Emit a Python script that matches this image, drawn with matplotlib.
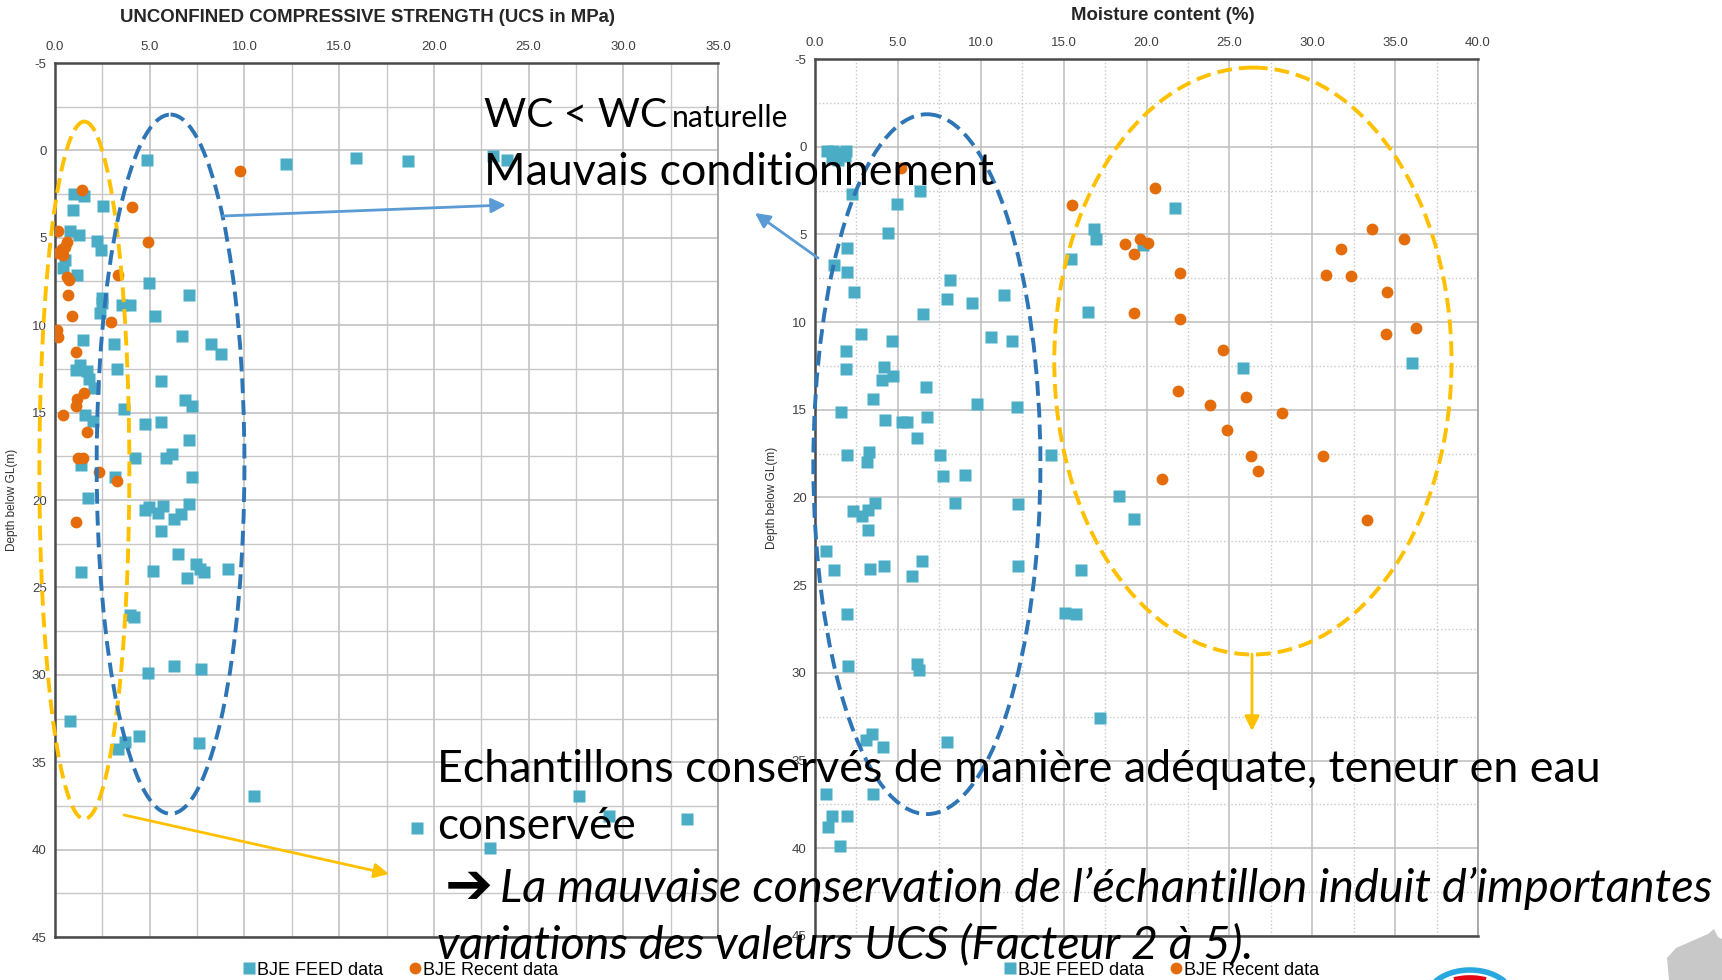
import matplotlib
matplotlib.use('Agg')
import matplotlib.pyplot as plt
from matplotlib.patches import Ellipse, Polygon
from matplotlib.lines import Line2D
import numpy as np

plt.rcParams['axes.unicode_minus'] = False

# UCS (MPa) against depth below ground level (m)
ucs_feed_x = [4.84, 1.0, 1.53, 0.97, 2.55, 0.79, 1.27, 2.24, 2.43, 0.53, 0.44, 1.18, 4.96, 7.1,
              2.46, 2.46, 3.52, 3.96, 2.38, 5.28, 6.69, 1.5, 3.12, 8.24, 8.75, 1.32, 1.11, 1.67,
              1.81, 2.08, 3.26, 5.58, 6.87, 7.25, 3.66, 1.58, 2.02, 4.75, 5.58, 7.1, 4.23, 5.85,
              6.16, 1.36, 3.17, 7.22, 1.76, 4.75, 4.98, 5.46, 5.72, 6.3, 6.64, 7.1, 5.58,
              6.51, 1.36, 5.19, 6.95, 7.45, 7.66, 7.89, 9.15, 3.95, 4.15, 4.89, 6.29, 7.71,
              0.79, 3.31, 3.7, 4.45, 7.61, 10.51,
              12.18, 15.9, 18.61, 23.12, 23.86, 19.1, 27.68, 29.27, 33.37, 22.98]
ucs_feed_depth = [0.53, 2.48, 2.63, 3.43, 3.2, 4.63, 4.86, 5.2, 5.68, 6.29, 6.7, 7.1, 7.58, 8.29,
                  8.44, 8.72, 8.86, 8.86, 9.33, 9.47, 10.6, 10.86, 11.05, 11.05, 11.66, 12.29,
                  12.57, 12.61, 13.05, 13.6, 12.51, 13.2, 14.29, 14.63, 14.82, 15.14, 15.47,
                  15.66, 15.52, 16.57, 17.58, 17.58, 17.39, 18.0, 18.67, 18.67, 19.9, 20.6,
                  20.38, 20.76, 20.34, 21.1, 20.8, 20.25, 21.8,
                  23.1, 24.1, 24.06, 24.46, 23.68, 23.93, 24.11, 23.93, 26.6, 26.7, 29.92, 29.5,
                  29.64, 32.62, 34.24, 33.82, 33.5, 33.92, 36.93,
                  0.75, 0.42, 0.6, 0.32, 0.56, 38.77, 36.93, 38.1, 38.26, 39.91]

ucs_recent_x = [9.77, 1.41, 4.08, 0.18, 4.93, 0.62, 0.53, 0.35, 0.18, 0.44, 3.31, 0.62, 0.74,
                0.67, 0.88, 2.96, 0.09, 0.18, 1.11, 1.55, 1.14, 1.11, 0.4, 1.67, 1.23, 1.46,
                2.32, 3.26, 1.11]
ucs_recent_depth = [1.18, 2.29, 3.24, 4.61, 5.24, 5.24, 5.52, 5.62, 5.87, 6.0, 7.14, 7.24, 7.39,
                    8.29, 9.47, 9.81, 10.25, 10.67, 11.52, 13.87, 14.25, 14.63, 15.14, 16.1,
                    17.62, 17.62, 18.42, 18.91, 21.24]

# Moisture content (%) against depth below ground level (m)
wc_feed_x = [0.7, 1.1, 1.5, 1.9, 1.0, 1.4, 1.8,
             2.21, 6.33, 4.93, 4.42, 1.91, 1.15, 1.91, 8.14, 2.37, 7.94, 9.49, 11.42, 6.53,
             2.75, 4.66, 10.62, 11.86, 1.87, 1.87, 4.16, 4.02, 4.72, 6.67, 3.52, 9.75, 12.16,
             1.55, 4.22, 5.23, 5.53, 6.74, 6.13, 1.91, 3.26, 3.12, 7.54, 14.21, 7.74, 9.05,
             8.44, 12.22, 2.31, 2.81, 3.22, 3.62, 3.22, 0.64,
             1.15, 3.32, 4.16, 5.83, 6.43, 12.22, 1.95, 2.01, 6.13, 6.27, 3.06, 3.46, 4.12,
             7.94, 0.64, 3.52, 1.05, 0.76, 1.95, 1.51,
             21.71, 16.83, 16.95, 19.8, 15.44, 16.45, 25.83, 36.03, 18.33, 19.24, 16.03,
             15.1, 15.76, 17.22]
wc_feed_depth = [0.25, 0.25, 0.35, 0.25, 0.65, 0.75, 0.55,
                 2.67, 2.54, 3.24, 4.91, 5.77, 6.76, 7.16, 7.61, 8.3, 8.68, 8.9, 8.47, 9.51,
                 10.65, 11.09, 10.84, 11.09, 11.66, 12.65, 12.55, 13.28, 13.09, 13.7, 14.36,
                 14.65, 14.86, 15.14, 15.56, 15.69, 15.69, 15.41, 16.6, 17.59, 17.4, 17.97,
                 17.59, 17.59, 18.75, 18.7, 20.31, 20.37, 20.79, 21.07, 20.73, 20.31, 21.83,
                 23.05,
                 24.12, 24.06, 23.93, 24.5, 23.64, 23.93, 26.63, 29.63, 29.49, 29.86, 33.82,
                 33.48, 34.2, 33.95, 36.91, 36.91, 38.18, 38.76, 38.13, 39.89,
                 3.52, 4.72, 5.29, 5.63, 6.38, 9.42, 12.61, 12.33, 19.93, 21.21, 24.12,
                 26.57, 26.63, 32.58]

wc_recent_x = [5.2, 20.51, 15.52, 18.7, 19.6, 20.1, 19.26, 22.01, 19.24, 22.01, 24.63, 21.91,
               23.82, 26.03, 28.2, 24.83, 26.3, 26.7, 30.62, 20.95, 33.33, 33.61, 35.53, 31.71,
               30.82, 32.31, 34.52, 34.44, 36.23]
wc_recent_depth = [1.2, 2.35, 3.3, 5.52, 5.26, 5.48, 6.09, 7.19, 9.48, 9.85, 11.57, 13.91,
                   14.7, 14.29, 15.18, 16.13, 17.65, 18.47, 17.61, 18.94, 21.26, 4.67, 5.29,
                   5.86, 7.29, 7.38, 8.3, 10.67, 10.33]

feed_color = '#4bacc6'
recent_color = '#e46c0a'
yellow = '#ffc000'
dark_blue = '#2e75b6'
light_blue = '#5b9bd5'
W, H = 1722, 980

chart_font = ['Liberation Sans', 'DejaVu Sans']
slide_font = ['Lato', 'DejaVu Sans']

fig = plt.figure(figsize=(W / 100, H / 100), dpi=100)


def px_rect(left, top, right, bottom):
    return [left / W, 1 - bottom / H, (right - left) / W, (bottom - top) / H]


def depth_axes(rect, xmax, minor_ls):
    ax = fig.add_axes(rect)
    ax.set_xlim(0, xmax)
    ax.set_ylim(45, -5)
    ax.xaxis.tick_top()
    major = np.arange(0, xmax + 0.1, 5)
    ax.set_xticks(major)
    ax.set_xticklabels(['%.1f' % v for v in major])
    ax.set_xticks(np.arange(2.5, xmax, 5), minor=True)
    ax.set_yticks(np.arange(-5, 46, 5))
    ax.set_yticks(np.arange(-2.5, 45, 5), minor=True)
    ax.grid(which='major', color='#bdbdbd', lw=1.1)
    ax.grid(which='minor', color='#c8c8c8', lw=1.0, ls=minor_ls)
    ax.set_axisbelow(True)
    ax.tick_params(which='both', length=0)
    ax.tick_params(axis='x', pad=7, labelsize=9.5, labelcolor='#404040')
    ax.tick_params(axis='y', pad=6, labelsize=9.5, labelcolor='#404040')
    for lbl in ax.get_xticklabels() + ax.get_yticklabels():
        lbl.set_family(chart_font)
    for side in ['top', 'left', 'bottom']:
        ax.spines[side].set_color('#4a4a4a')
        ax.spines[side].set_linewidth(1.8)
    ax.spines['right'].set_color('#a0a0a0')
    ax.spines['right'].set_linewidth(1.2)
    ax.set_ylabel('Depth below GL(m)', fontsize=8.5, family=chart_font, color='#303030')
    ax.yaxis.set_label_coords(-0.056, 0.5)
    return ax


ax1 = depth_axes(px_rect(55, 63, 718, 937), 35, '-')
ax2 = depth_axes(px_rect(815, 59, 1478, 936), 40, ':')

for ax, fx, fy, rx, ry in [(ax1, ucs_feed_x, ucs_feed_depth, ucs_recent_x, ucs_recent_depth),
                           (ax2, wc_feed_x, wc_feed_depth, wc_recent_x, wc_recent_depth)]:
    ax.plot(fx, fy, ls='none', marker='s', ms=8, color=feed_color, mec='none', zorder=3)
    ax.plot(rx, ry, ls='none', marker='o', ms=8.5, color=recent_color, mec='none', zorder=4)

# dashed groupings
ellipse_style = dict(fill=False, lw=2.8, ls=(0, (3.8, 1.8)), clip_on=False, zorder=6)
ax1.add_patch(Ellipse((1.55, 18.3), 4.75, 39.9, ec=yellow, **ellipse_style))
ax1.add_patch(Ellipse((6.1, 17.95), 7.8, 40.0, ec=dark_blue, **ellipse_style))
ax2.add_patch(Ellipse((6.75, 18.1), 13.7, 39.9, ec=dark_blue, **ellipse_style))
ax2.add_patch(Ellipse((26.42, 12.22), 23.97, 33.46, ec=yellow, **ellipse_style))

fig.text(368 / W, 1 - 17 / H, 'UNCONFINED COMPRESSIVE STRENGTH (UCS in MPa)', ha='center',
         va='center', fontsize=13.4, fontweight='bold', family=chart_font, color='#262626')
fig.text(1163 / W, 1 - 15 / H, 'Moisture content (%)', ha='center', va='center',
         fontsize=13.4, fontweight='bold', family=chart_font, color='#262626')

handles = [Line2D([], [], ls='none', marker='s', ms=8.5, color=feed_color, mec='none'),
           Line2D([], [], ls='none', marker='o', ms=8.5, color=recent_color, mec='none')]
for cx in [400, 1161]:
    fig.legend(handles, ['BJE FEED data', 'BJE Recent data'], loc='center',
               bbox_to_anchor=(cx / W, 1 - 970 / H), ncol=2, frameon=False,
               prop={'family': chart_font, 'size': 13}, handletextpad=0.05,
               columnspacing=1.4, handlelength=0.8, borderpad=0)

# annotation layer in pixel coordinates
ov = fig.add_axes([0, 0, 1, 1], zorder=10)
ov.set_xlim(0, W)
ov.set_ylim(H, 0)
ov.axis('off')
ov.patch.set_alpha(0)

renderer = fig.canvas.get_renderer()


def fit_text(x, y, s, width, **kw):
    t = ov.text(x, y, s, fontsize=30, va='baseline', ha='left', **kw)
    w = t.get_window_extent(renderer).width
    t.set_fontsize(30 * width / w)
    return t


fit_text(484, 127, 'WC < WC', 183, family=slide_font)
fit_text(672, 127, 'naturelle', 116, family=slide_font)
fit_text(484, 185, 'Mauvais conditionnement', 510, family=slide_font)
fit_text(437, 782, 'Echantillons conservés de manière adéquate, teneur en eau', 1164,
         family=slide_font)
fit_text(437, 839, 'conservée', 198, family=slide_font)
fit_text(445, 903, '\u2794', 48, family=['DejaVu Sans'], fontweight='bold')
fit_text(500, 902, 'La mauvaise conservation de l\u2019échantillon induit d\u2019importantes', 1211,
         family=slide_font, style='italic')
fit_text(437, 958, 'variations des valeurs UCS (Facteur 2 à 5).', 815,
         family=slide_font, style='italic')

arrow = dict(arrowstyle='-|>', lw=2, mutation_scale=22, shrinkA=0, shrinkB=0)
ov.annotate('', xy=(506, 205), xytext=(223, 216), arrowprops=dict(color=light_blue, **arrow))
ov.annotate('', xy=(755, 213), xytext=(818, 258), arrowprops=dict(color=light_blue, **arrow))
ov.annotate('', xy=(389, 874), xytext=(124, 815), arrowprops=dict(color=yellow, **arrow))
ov.annotate('', xy=(1252, 731), xytext=(1252, 654), arrowprops=dict(color=yellow, **arrow))

# logo corner
ov.add_patch(Polygon([(1669, 980), (1667, 958), (1676, 948), (1692, 941), (1708, 934),
                      (1714, 929), (1718, 937), (1722, 939), (1722, 980)],
                     closed=True, fc='#c8c8c8', ec='none'))
t = np.linspace(0.15, np.pi - 0.25, 60)
ov.plot(1470 + 44 * np.cos(t), 1000 - 30 * np.sin(t), color='#29a8e0', lw=4,
        solid_capstyle='round')
ov.plot(1470 + 38 * np.cos(t), 1004 - 24 * np.sin(t), color='#e30613', lw=7)

fig.savefig('out.png', dpi=100)
